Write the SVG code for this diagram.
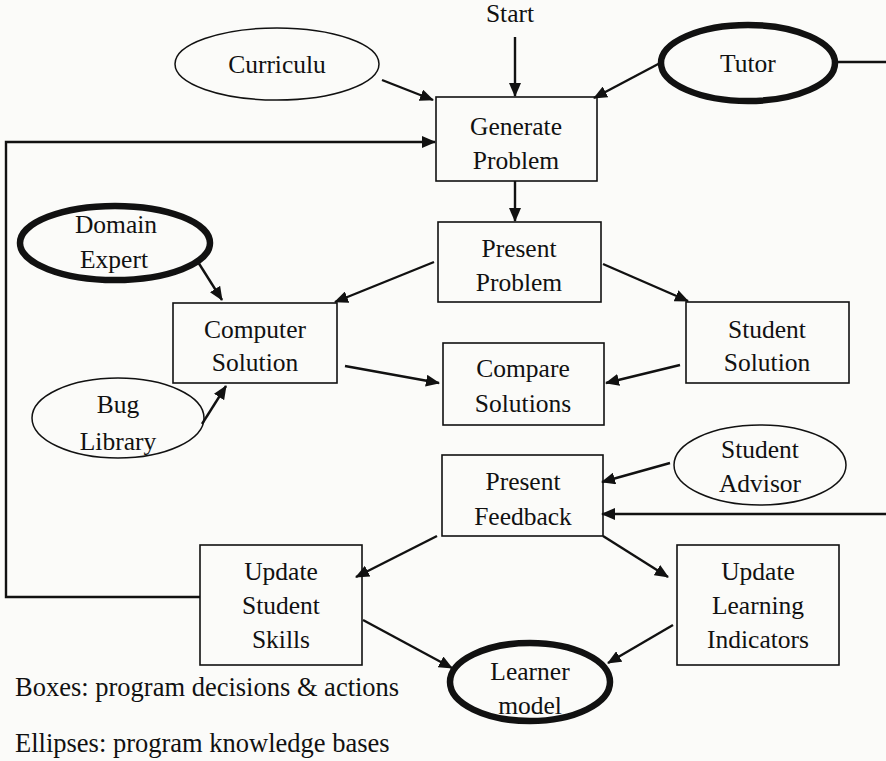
<svg xmlns="http://www.w3.org/2000/svg" width="886" height="761" viewBox="0 0 886 761">
<defs>
<marker id="ah" markerWidth="14" markerHeight="12" refX="13" refY="6" orient="auto" markerUnits="userSpaceOnUse">
<path d="M0,0 L14,6 L0,12 Z" fill="#111"/>
</marker>
<style>
.box{fill:none;stroke:#111;stroke-width:1.6}
.thin{fill:none;stroke:#111;stroke-width:1.5}
.thick{fill:none;stroke:#111;stroke-width:6.5}
.c{fill:none;stroke:#111;stroke-width:2.4}
.a{fill:none;stroke:#111;stroke-width:2.4;marker-end:url(#ah)}
text{font-family:"Liberation Serif","Times New Roman",serif;font-size:25.5px;fill:#111;text-anchor:middle}
.l{text-anchor:start;font-size:26.5px}
</style>
</defs>
<rect width="886" height="761" fill="#fbfbf9"/>
<g id="connectors">
<line class="a" x1="515" y1="37" x2="515" y2="96"/>
<line class="a" x1="382" y1="80" x2="433" y2="100"/>
<line class="a" x1="662" y1="62" x2="594" y2="98"/>
<line class="c" x1="836" y1="62" x2="886" y2="62"/>
<polyline class="a" points="200,597 6,597 6,142 435,142"/>
<line class="a" x1="515" y1="181" x2="515" y2="221"/>
<line class="a" x1="434" y1="262" x2="335" y2="302"/>
<line class="a" x1="603" y1="264" x2="688" y2="301"/>
<line class="a" x1="198" y1="262" x2="222" y2="300"/>
<line class="a" x1="202" y1="424" x2="226" y2="386"/>
<line class="a" x1="345" y1="366" x2="439" y2="383"/>
<line class="a" x1="680" y1="365" x2="606" y2="383"/>
<line class="a" x1="670" y1="463" x2="602" y2="482"/>
<line class="a" x1="886" y1="514" x2="602" y2="514"/>
<line class="a" x1="437" y1="536" x2="356" y2="577"/>
<line class="a" x1="603" y1="536" x2="668" y2="577"/>
<line class="a" x1="363" y1="620" x2="452" y2="668"/>
<line class="a" x1="673" y1="625" x2="608" y2="663"/>
</g>
<g id="start"><text x="510" y="22">Start</text></g>
<g id="curriculum"><ellipse class="thin" cx="277" cy="64" rx="102" ry="36"/><text x="277" y="73">Curriculu</text></g>
<g id="tutor"><ellipse class="thick" cx="748" cy="63" rx="87" ry="38"/><text x="748" y="72">Tutor</text></g>
<g id="generate-problem"><rect class="box" x="436" y="97" width="161" height="84"/><text x="516" y="135">Generate</text><text x="516" y="169">Problem</text></g>
<g id="present-problem"><rect class="box" x="438" y="222" width="163" height="80"/><text x="519" y="257">Present</text><text x="519" y="291">Problem</text></g>
<g id="domain-expert"><ellipse class="thick" cx="115" cy="243" rx="95" ry="37"/><text x="116" y="233">Domain</text><text x="114" y="268">Expert</text></g>
<g id="computer-solution"><rect class="box" x="173" y="303" width="164" height="80"/><text x="255" y="338">Computer</text><text x="255" y="371">Solution</text></g>
<g id="student-solution"><rect class="box" x="686" y="302" width="163" height="81"/><text x="767" y="338">Student</text><text x="767" y="371">Solution</text></g>
<g id="compare-solutions"><rect class="box" x="443" y="343" width="161" height="82"/><text x="523" y="377">Compare</text><text x="523" y="412">Solutions</text></g>
<g id="bug-library"><ellipse class="thin" cx="118" cy="418" rx="86" ry="40"/><text x="118" y="413">Bug</text><text x="118" y="450">Library</text></g>
<g id="present-feedback"><rect class="box" x="442" y="455" width="161" height="81"/><text x="523" y="490">Present</text><text x="523" y="525">Feedback</text></g>
<g id="student-advisor"><ellipse class="thin" cx="760" cy="465" rx="86" ry="40"/><text x="760" y="458">Student</text><text x="760" y="492">Advisor</text></g>
<g id="update-student-skills"><rect class="box" x="200" y="545" width="162" height="120"/><text x="281" y="580">Update</text><text x="281" y="614">Student</text><text x="281" y="648">Skills</text></g>
<g id="update-learning-indicators"><rect class="box" x="677" y="545" width="162" height="120"/><text x="758" y="580">Update</text><text x="758" y="614">Learning</text><text x="758" y="648">Indicators</text></g>
<g id="learner-model"><ellipse class="thick" cx="530" cy="682" rx="80" ry="39"/><text x="530" y="680">Learner</text><text x="530" y="714">model</text></g>
<g id="legend"><text class="l" x="15" y="696">Boxes: program decisions &amp; actions</text><text class="l" x="15" y="752">Ellipses: program knowledge bases</text></g>
</svg>
